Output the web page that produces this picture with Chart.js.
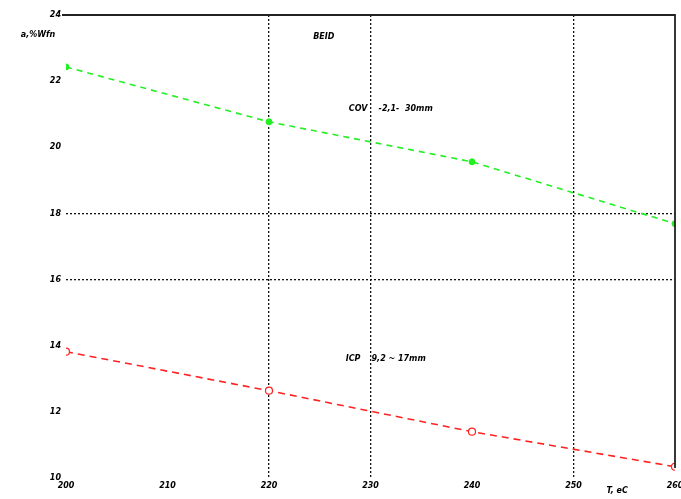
<!DOCTYPE html>
<html>
<head>
<meta charset="utf-8">
<script src="https://cdn.jsdelivr.net/npm/chart.js@4"></script>
<style>
  html, body { margin: 0; padding: 0; background: #fff; }
  #wrap { width: 681px; height: 499px; }
</style>
</head>
<body>
<div id="wrap"><canvas id="chart"></canvas></div>
<script>
// temperatures on the x axis
const temps = [200, 220, 240, 260];
// upper (green) and lower (red) series
const greenValues = [22.43, 20.77, 19.56, 17.69];
const redValues = [13.82, 12.64, 11.40, 10.34];
// where the dotted grid is drawn
const xGridAt = [220, 230, 250];
const yGridAt = [18, 16];

const labelFont = { family: 'DejaVu Sans', size: 8, weight: 'bold', style: 'italic' };

// top / right frame lines and the text notes inside the plot
const framePlugin = {
    id: 'frame',
    afterDraw(chart) {
        const { ctx, chartArea: a, scales } = chart;
        const x = scales.x, y = scales.y;
        ctx.save();
        ctx.strokeStyle = '#222';
        ctx.lineWidth = 1.8;
        ctx.beginPath();
        ctx.moveTo(a.left - 4, a.top);
        ctx.lineTo(a.right, a.top);
        ctx.lineTo(a.right, a.bottom - 10);
        ctx.stroke();

        ctx.fillStyle = '#000';
        ctx.font = 'italic bold 8px "DejaVu Sans"';
        ctx.textBaseline = 'middle';
        ctx.textAlign = 'center';
        ctx.fillText('BEID', x.getPixelForValue(225.4), y.getPixelForValue(23.35));
        ctx.fillText('COV    -2,1-  30mm', x.getPixelForValue(232), y.getPixelForValue(21.15));
        ctx.fillText('ICP    9,2 ~ 17mm', x.getPixelForValue(231.5), y.getPixelForValue(13.6));
        ctx.fillText('a,%Wfn', 38, y.getPixelForValue(23.4));
        ctx.fillText('T, eC', x.getPixelForValue(254.3), 491);
        ctx.restore();
    }
};

const ctx = document.getElementById('chart').getContext('2d');
new Chart(ctx, {
    type: 'line',
    data: {
        datasets: [
            {
                data: temps.map((t, i) => ({ x: t, y: greenValues[i] })),
                borderColor: '#22f022',
                backgroundColor: '#22f022',
                borderWidth: 1.6,
                borderDash: [6, 5],
                pointStyle: 'circle',
                pointRadius: 3,
                pointBorderWidth: 1,
                tension: 0,
            },
            {
                data: temps.map((t, i) => ({ x: t, y: redValues[i] })),
                borderColor: '#ff2222',
                backgroundColor: '#ffffff',
                borderWidth: 1.6,
                borderDash: [7, 5],
                pointStyle: 'circle',
                pointRadius: 3.5,
                pointBorderWidth: 1.2,
                tension: 0,
            },
        ],
    },
    options: {
        responsive: true,
        maintainAspectRatio: false,
        animation: false,
        layout: { padding: { top: 15, right: 0, left: 0, bottom: 0 } },
        plugins: {
            legend: { display: false },
            tooltip: { enabled: false },
        },
        scales: {
            x: {
                type: 'linear',
                min: 200,
                max: 260,
                afterFit: (s) => { s.height = 21; s.paddingRight = 6; s.paddingLeft = 0; },
                ticks: { stepSize: 10, padding: 3, color: '#000', font: labelFont },
                grid: {
                    drawTicks: false,
                    lineWidth: 1.3,
                    color: (c) => xGridAt.includes(c.tick && c.tick.value) ? '#111' : 'rgba(0,0,0,0)',
                },
                border: { display: false, dash: [2, 2] },
            },
            y: {
                min: 10,
                max: 24,
                afterFit: (s) => { s.width = 66; },
                ticks: { stepSize: 2, padding: 5, color: '#000', font: labelFont },
                grid: {
                    drawTicks: false,
                    lineWidth: 1.3,
                    color: (c) => yGridAt.includes(c.tick && c.tick.value) ? '#111' : 'rgba(0,0,0,0)',
                },
                border: { display: false, dash: [2, 2] },
            },
        },
    },
    plugins: [framePlugin],
});
</script>
</body>
</html>
